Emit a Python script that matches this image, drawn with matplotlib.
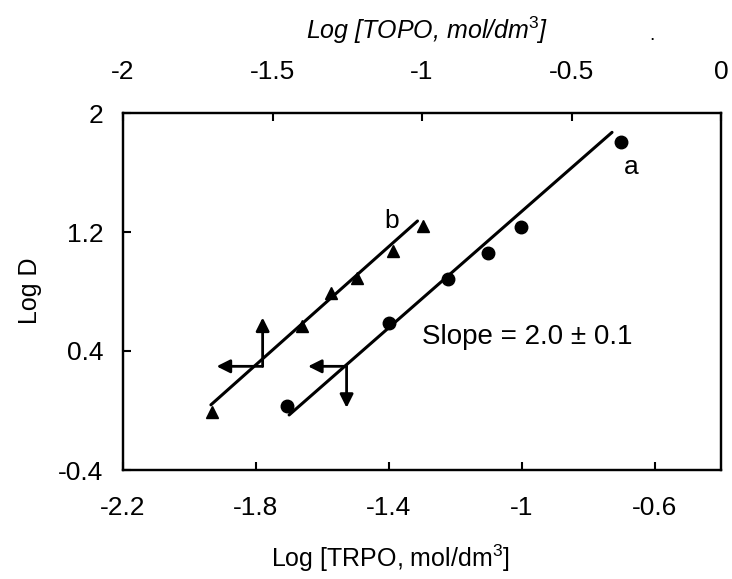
import matplotlib
matplotlib.use("Agg")
import matplotlib.pyplot as plt

plt.rcParams['font.family'] = ['Liberation Sans', 'DejaVu Sans']
plt.rcParams['mathtext.fontset'] = 'custom'
plt.rcParams['mathtext.rm'] = 'Liberation Sans'
plt.rcParams['mathtext.it'] = 'Liberation Sans:italic'
plt.rcParams['axes.unicode_minus'] = False

# ---- data ----
# series a: TRPO (bottom axis), circles
a_x = [-1.705, -1.399, -1.221, -1.100, -1.002, -0.700]
a_y = [0.027, 0.589, 0.881, 1.056, 1.234, 1.807]
a_fit_x = [-1.700, -0.728]
a_fit_y = [-0.030, 1.870]

# series b: TOPO (top axis), triangles
b_x = [-1.703, -1.402, -1.305, -1.219, -1.098, -0.995]
b_y = [-0.007, 0.566, 0.791, 0.892, 1.072, 1.240]
b_fit_x = [-1.706, -1.015]
b_fit_y = [0.038, 1.274]

# axis ticks
bottom_ticks = [-2.2, -1.8, -1.4, -1.0, -0.6]
bottom_labels = ['-2.2', '-1.8', '-1.4', '-1', '-0.6']
top_ticks = [-2.0, -1.5, -1.0, -0.5, 0.0]
top_labels = ['-2', '-1.5', '-1', '-0.5', '0']
y_ticks = [-0.4, 0.4, 1.2, 2.0]
y_labels = ['-0.4', '0.4', '1.2', '2']

# arrows (origin x, origin y, vertical tip y, horizontal tip x)
arrow_a = (-1.527, 0.297, 0.018, -1.643)   # bottom-axis coords
arrow_b = (-1.533, 0.297, 0.625, -1.687)   # top-axis coords

FS = 19

fig = plt.figure(figsize=(7.32, 5.79), dpi=100)
ax = fig.add_axes([123/732, (579-470)/579, 598/732, 357/579])
ax.set_xlim(-2.2, -0.4)
ax.set_ylim(-0.4, 2.0)

ax2 = ax.twiny()
ax2.set_xlim(-2.0, 0.0)

for a in (ax, ax2):
    for s in a.spines.values():
        s.set_linewidth(1.6)

ax.plot(a_fit_x, a_fit_y, color='k', lw=2.2, solid_capstyle='round')
ax.plot(a_x, a_y, 'o', color='k', ms=9)
ax2.plot(b_fit_x, b_fit_y, color='k', lw=2.2, solid_capstyle='round')
ax2.plot(b_x, b_y, '^', color='k', ms=9)

ax.set_xticks(bottom_ticks)
ax.set_xticklabels(bottom_labels)
ax.set_yticks(y_ticks)
ax.set_yticklabels(y_labels)
ax.tick_params(axis='x', direction='in', length=6, width=1.5, labelsize=FS, pad=19, top=False)
ax.tick_params(axis='y', direction='in', length=6, width=1.5, labelsize=FS, pad=14, right=False)

ax2.set_xticks(top_ticks)
ax2.set_xticklabels(top_labels)
ax2.tick_params(axis='x', direction='in', length=6, width=1.5, labelsize=FS, pad=21)

aprops = dict(arrowstyle='-|>', lw=2.0, color='k', mutation_scale=20, shrinkA=0, shrinkB=0)
ox, oy, ty, tx = arrow_a
ax.annotate('', xy=(ox, ty), xytext=(ox, oy), arrowprops=aprops)
ax.annotate('', xy=(tx, oy), xytext=(ox, oy), arrowprops=aprops)
ox, oy, ty, tx = arrow_b
ax2.annotate('', xy=(ox, ty), xytext=(ox, oy), arrowprops=aprops)
ax2.annotate('', xy=(tx, oy), xytext=(ox, oy), arrowprops=aprops)

ax.text(-0.669, 1.634, 'a', fontsize=FS, ha='center', va='center')
ax.text(-1.391, 1.274, 'b', fontsize=FS, ha='center', va='center')
ax.text(-1.300, 0.497, 'Slope = 2.0 \u00b1 0.1', fontsize=20, ha='left', va='center')

fig.text(390/732, 1 - 558/579, 'Log [TRPO, mol/dm$^3$]', fontsize=18, ha='center', va='center')
fig.text(548/732, 1 - 30/579, 'Log [TOPO, mol/dm$^3$]', fontsize=18, ha='right', va='center', style='italic')
fig.text(30/732, 1 - 291/579, 'Log D', fontsize=18, ha='center', va='center', rotation=90)
fig.text(652/732, 1 - 35/579, '.', fontsize=14, ha='center', va='center')

fig.savefig('out.png', dpi=100)
